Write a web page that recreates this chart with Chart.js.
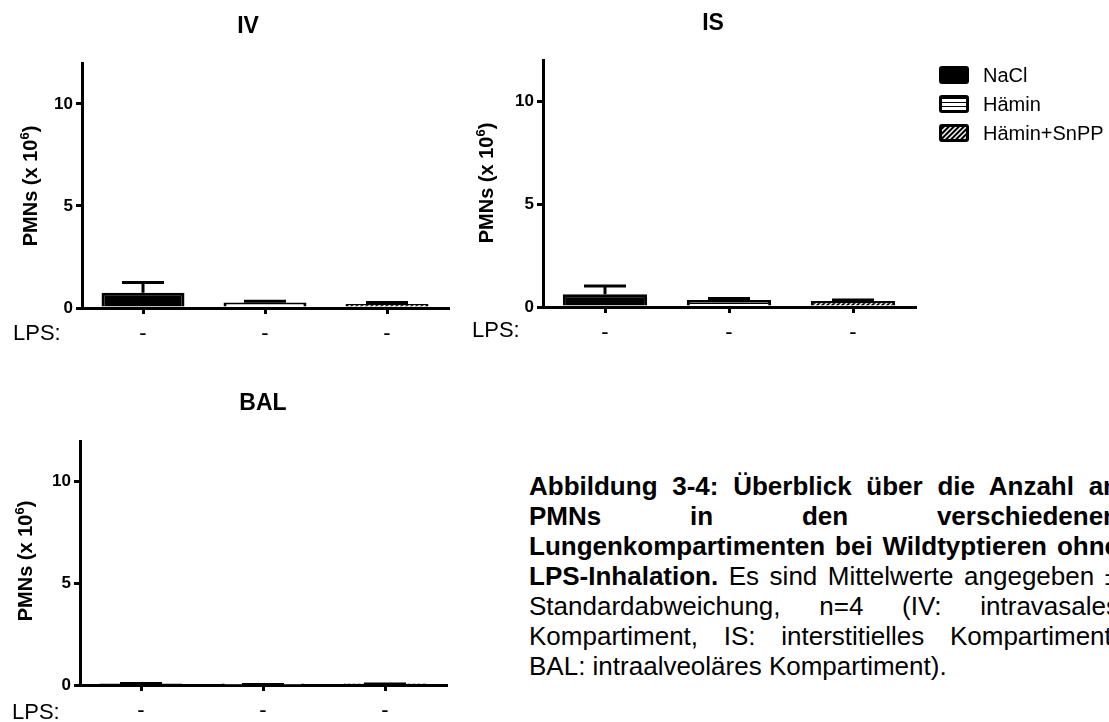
<!DOCTYPE html>
<html><head><meta charset="utf-8">
<script src="https://cdn.jsdelivr.net/npm/chart.js@4.4.0/dist/chart.umd.min.js"></script>
<style>
html,body{margin:0;padding:0;background:#fff;width:1109px;height:722px;overflow:hidden;position:relative;font-family:"Liberation Sans",Arial,sans-serif;color:#000;}
canvas.cv{position:absolute;}
.ttl{position:absolute;font-size:23px;font-weight:bold;line-height:23px;transform:translateX(-50%);white-space:nowrap;}
.lps{position:absolute;font-size:22px;line-height:26px;white-space:nowrap;}
.leg{position:absolute;left:939px;height:22px;white-space:nowrap;}
.leg canvas{position:absolute;left:0;top:2px;}
.leg span{position:absolute;left:44px;top:0;font-size:20px;line-height:22px;}
#caption{position:absolute;left:529px;top:471px;width:590px;font-size:26px;line-height:30px;text-align:justify;}
</style></head><body>
<canvas id="cIV" class="cv" width="496" height="360" style="left:0;top:0"></canvas>
<canvas id="cIS" class="cv" width="546" height="360" style="left:440px;top:0"></canvas>
<canvas id="cBAL" class="cv" width="526" height="352" style="left:0;top:370px"></canvas>

<div class="ttl" style="left:248px;top:14px">IV</div>
<div class="ttl" style="left:713px;top:11px">IS</div>
<div class="ttl" style="left:263px;top:391px">BAL</div>

<div class="lps" style="left:13px;top:320px">LPS:</div>
<div class="lps" style="left:472px;top:317px">LPS:</div>
<div class="lps" style="left:12px;top:699px">LPS:</div>

<div id="legend"></div>

<div id="caption"><b>Abbildung 3-4: Überblick über die Anzahl an PMNs in den verschiedenen Lungenkompartimenten bei Wildtyptieren ohne LPS-Inhalation.</b> Es sind Mittelwerte angegeben ± Standardabweichung, n=4 (IV: intravasales Kompartiment, IS: interstitielles Kompartiment, BAL: intraalveoläres Kompartiment).</div>

<script>
// ---- data ----
const categories = ['NaCl', 'Hämin', 'Hämin+SnPP'];
const xTickLabels = ['-', '-', '-'];
const yTickValues = [0, 5, 10];
const yMax = 12;
const ivMean = [0.75, 0.27, 0.20];
const ivSD = [0.50, 0.06, 0.07];
const isMean = [0.62, 0.34, 0.29];
const isSD = [0.40, 0.07, 0.05];
const balMean = [0.04, 0.01, 0.03];
const balSD = [0.03, 0.01, 0.02];

// ---- fills ----
function stripePattern() {
  const c = document.createElement('canvas'); c.width = 4; c.height = 4;
  const g = c.getContext('2d');
  g.fillStyle = '#fff'; g.fillRect(0, 0, 4, 4);
  g.fillStyle = '#000'; g.fillRect(0, 3, 4, 1);
  return g.createPattern(c, 'repeat');
}
function hatchPattern() {
  const s = 5;
  const c = document.createElement('canvas'); c.width = s; c.height = s;
  const g = c.getContext('2d');
  g.fillStyle = '#000'; g.fillRect(0, 0, s, s);
  g.strokeStyle = '#fff'; g.lineWidth = 1.5;
  g.beginPath();
  g.moveTo(0, s); g.lineTo(s, 0);
  g.moveTo(-1, 1); g.lineTo(1, -1);
  g.moveTo(s - 1, s + 1); g.lineTo(s + 1, s - 1);
  g.stroke();
  return g.createPattern(c, 'repeat');
}
const fills = ['#000', stripePattern(), hatchPattern()];

Chart.defaults.font.family = "'Liberation Sans', Arial, sans-serif";
Chart.defaults.color = '#000';

const errorBars = {
  id: 'errorBars',
  afterDatasetsDraw(chart, args, opts) {
    const ctx = chart.ctx, ys = chart.scales.y;
    const meta = chart.getDatasetMeta(0);
    const ds = chart.data.datasets[0];
    meta.data.forEach((bar, j) => {
      const top = ys.getPixelForValue(ds.data[j] + opts.sd[j]);
      ctx.save();
      ctx.strokeStyle = '#000'; ctx.lineWidth = 3; ctx.lineCap = 'butt';
      ctx.beginPath();
      ctx.moveTo(bar.x, bar.y); ctx.lineTo(bar.x, top);
      ctx.moveTo(bar.x - 21, top); ctx.lineTo(bar.x + 21, top);
      ctx.stroke();
      ctx.restore();
    });
  }
};

const yTitle = {
  id: 'yTitle',
  afterDraw(chart, args, opts) {
    const ctx = chart.ctx;
    ctx.save();
    ctx.translate(opts.x, opts.y);
    ctx.rotate(-Math.PI / 2);
    ctx.fillStyle = '#000';
    ctx.textBaseline = 'alphabetic';
    const big = "bold 20px 'Liberation Sans', Arial, sans-serif";
    const small = "bold 13px 'Liberation Sans', Arial, sans-serif";
    const a = 'PMNs (x 10', b = '6', c = ')';
    ctx.font = big; const wa = ctx.measureText(a).width, wc = ctx.measureText(c).width;
    ctx.font = small; const wb = ctx.measureText(b).width;
    let x = -(wa + wb + wc) / 2;
    ctx.font = big; ctx.fillText(a, x, 0); x += wa;
    ctx.font = small; ctx.fillText(b, x, -8); x += wb;
    ctx.font = big; ctx.fillText(c, x, 0);
    ctx.restore();
  }
};

function makeChart(id, mean, sd, L) {
  new Chart(document.getElementById(id), {
    type: 'bar',
    data: {
      labels: categories,
      datasets: [{
        label: 'PMNs',
        data: mean,
        backgroundColor: fills,
        borderColor: '#000',
        borderWidth: 3,
        categoryPercentage: 1.0,
        barPercentage: 0.68
      }]
    },
    options: {
      responsive: false,
      animation: false,
      events: [],
      layout: { padding: { left: 0, top: L.top, right: L.right, bottom: 0 } },
      plugins: {
        legend: { display: false },
        tooltip: { enabled: false },
        title: { display: false },
        errorBars: { sd: sd },
        yTitle: { x: L.tx, y: L.ty }
      },
      scales: {
        x: {
          type: 'category',
          offset: true,
          afterFit: s => { s.height = L.xh; },
          grid: { display: true, offset: false, drawOnChartArea: false, drawTicks: true, tickLength: 6, color: '#000', lineWidth: 3 },
          border: { display: true, color: '#000', width: 3 },
          ticks: { callback: (v, i) => xTickLabels[i], font: { size: 22 }, padding: 7, maxRotation: 0, autoSkip: false }
        },
        y: {
          min: 0, max: yMax,
          afterFit: s => { s.width = L.yw; },
          afterBuildTicks: s => { s.ticks = yTickValues.map(v => ({ value: v })); },
          grid: { display: true, drawOnChartArea: false, drawTicks: true, tickLength: 6, color: '#000', lineWidth: 3 },
          border: { display: true, color: '#000', width: 3 },
          ticks: { font: { size: 17, weight: 'bold' }, padding: 3 }
        }
      }
    },
    plugins: [errorBars, yTitle]
  });
}

makeChart('cIV', ivMean, ivSD, { top: 63, right: 48, xh: 52, yw: 82, tx: 37, ty: 186 });
makeChart('cIS', isMean, isSD, { top: 60, right: 71, xh: 53, yw: 103, tx: 53, ty: 183 });
makeChart('cBAL', balMean, balSD, { top: 71, right: 80, xh: 37, yw: 80, tx: 32, ty: 191 });

// ---- legend ----
const legendY = [64, 93, 122];
const leg = document.getElementById('legend');
categories.forEach((name, i) => {
  const d = document.createElement('div');
  d.className = 'leg'; d.style.top = legendY[i] + 'px';
  const c = document.createElement('canvas'); c.width = 30; c.height = 18;
  const g = c.getContext('2d');
  g.fillStyle = '#000';
  g.beginPath(); g.roundRect(0, 0, 30, 18, 3); g.fill();
  g.fillStyle = fills[i]; g.fillRect(3, 3, 24, 12);
  const t = document.createElement('span'); t.textContent = name;
  d.appendChild(c); d.appendChild(t); leg.appendChild(d);
});
</script>
</body></html>
